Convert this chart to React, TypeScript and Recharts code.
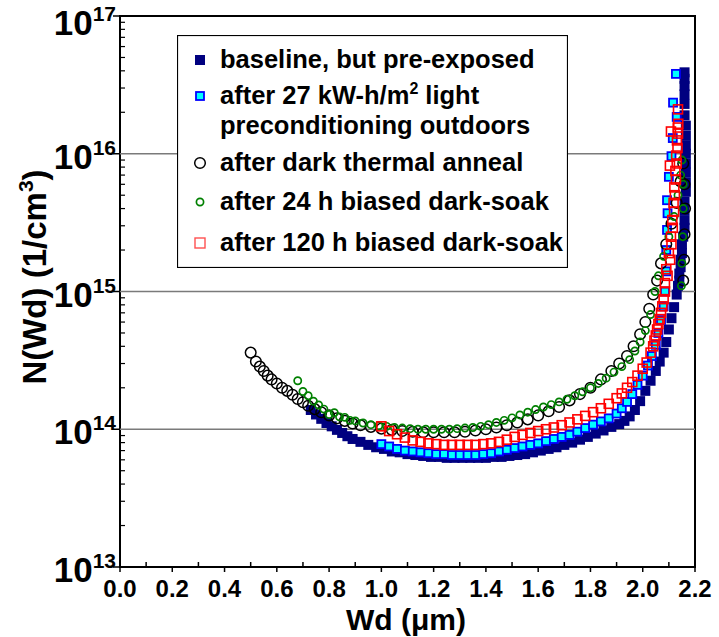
import { ScatterChart, Scatter, XAxis, YAxis, ReferenceLine, ReferenceArea, Legend } from "recharts";

const FONT = "'Liberation Sans', Arial, Helvetica, sans-serif";

// [Wd (um), N(Wd) (1/cm3)]
const baseline: [number, number][] = [
  [0.73, 1.38e14], [0.75, 1.28e14], [0.77, 1.19e14], [0.79, 1.11e14], [0.81, 1.05e14], [0.83, 9.9e13],
  [0.85, 9.4e13], [0.87, 8.9e13], [0.89, 8.5e13], [0.92, 8.1e13], [0.95, 7.7e13], [0.98, 7.4e13],
  [1.01, 7.2e13], [1.04, 6.9e13], [1.07, 6.8e13], [1.1, 6.6e13], [1.13, 6.5e13], [1.16, 6.4e13],
  [1.19, 6.3e13], [1.22, 6.3e13], [1.25, 6.2e13], [1.28, 6.2e13], [1.31, 6.2e13], [1.34, 6.2e13],
  [1.37, 6.2e13], [1.4, 6.2e13], [1.43, 6.3e13], [1.46, 6.3e13], [1.49, 6.4e13], [1.52, 6.5e13],
  [1.55, 6.6e13], [1.58, 6.8e13], [1.61, 7.0e13], [1.64, 7.2e13], [1.67, 7.4e13], [1.7, 7.7e13],
  [1.73, 8.0e13], [1.76, 8.4e13], [1.79, 8.8e13], [1.82, 9.3e13], [1.85, 9.8e13], [1.88, 1.04e14],
  [1.91, 1.09e14], [1.93, 1.15e14], [1.95, 1.24e14], [1.97, 1.38e14], [1.99, 1.6e14], [2.01, 1.9e14],
  [2.03, 2.25e14], [2.05, 2.65e14], [2.065, 3.1e14], [2.08, 3.6e14], [2.09, 4.3e14], [2.1, 5.3e14],
  [2.11, 6.4e14], [2.12, 7.7e14], [2.13, 9.5e14], [2.135, 1.1e15], [2.14, 1.2e15], [2.14, 1.35e15],
  [2.145, 1.5e15], [2.145, 1.7e15], [2.15, 1.9e15], [2.15, 2.2e15], [2.155, 2.5e15], [2.16, 2.9e15],
  [2.16, 3.3e15], [2.16, 3.9e15], [2.16, 4.5e15], [2.165, 5.3e15], [2.165, 6.2e15], [2.165, 7.3e15],
  [2.165, 8.5e15], [2.165, 1.0e16], [2.165, 1.15e16], [2.165, 1.35e16], [2.165, 1.6e16], [2.16, 1.9e16],
  [2.16, 2.3e16], [2.16, 2.7e16], [2.16, 3.1e16], [2.16, 3.5e16], [2.16, 3.9e16],
];

const lightSoak: [number, number][] = [
  [1.0, 7.8e13], [1.03, 7.5e13], [1.06, 7.2e13], [1.09, 7.0e13], [1.12, 6.9e13], [1.15, 6.8e13],
  [1.18, 6.7e13], [1.21, 6.6e13], [1.24, 6.6e13], [1.27, 6.5e13], [1.3, 6.5e13], [1.33, 6.5e13],
  [1.36, 6.5e13], [1.39, 6.6e13], [1.42, 6.7e13], [1.45, 6.9e13], [1.48, 7.1e13], [1.51, 7.3e13],
  [1.54, 7.5e13], [1.57, 7.7e13], [1.6, 7.9e13], [1.63, 8.2e13], [1.66, 8.5e13], [1.69, 8.8e13],
  [1.72, 9.1e13], [1.75, 9.6e13], [1.78, 1.02e14], [1.81, 1.08e14], [1.84, 1.14e14], [1.87, 1.2e14],
  [1.9, 1.3e14], [1.92, 1.42e14], [1.94, 1.58e14], [1.96, 1.8e14], [1.98, 2.1e14], [2.0, 2.45e14],
  [2.02, 2.9e14], [2.035, 3.4e14], [2.05, 4.1e14], [2.06, 5.0e14], [2.07, 6.2e14], [2.08, 7.8e14],
  [2.085, 1.0e15], [2.09, 1.4e15], [2.09, 2.0e15], [2.093, 2.8e15], [2.095, 3.7e15], [2.093, 4.6e15],
  [2.1, 6.8e15], [2.11, 9.6e15], [2.115, 1.3e16], [2.13, 1.85e16], [2.116, 2.35e16], [2.127, 3.8e16],
];

const thermalAnneal: [number, number][] = [
  [0.5, 3.6e14], [0.52, 3.1e14], [0.535, 2.85e14], [0.55, 2.65e14], [0.565, 2.45e14], [0.58, 2.3e14],
  [0.6, 2.15e14], [0.62, 2.0e14], [0.64, 1.9e14], [0.66, 1.78e14], [0.68, 1.66e14], [0.7, 1.57e14],
  [0.72, 1.48e14], [0.745, 1.4e14], [0.77, 1.33e14], [0.8, 1.26e14], [0.83, 1.2e14], [0.86, 1.15e14],
  [0.89, 1.1e14], [0.92, 1.07e14], [0.96, 1.04e14], [1.0, 1.01e14], [1.04, 9.9e13], [1.08, 9.7e13],
  [1.12, 9.6e13], [1.16, 9.5e13], [1.2, 9.5e13], [1.24, 9.5e13], [1.28, 9.5e13], [1.32, 9.6e13],
  [1.36, 9.8e13], [1.4, 1.0e14], [1.44, 1.03e14], [1.48, 1.07e14], [1.52, 1.12e14], [1.56, 1.18e14],
  [1.6, 1.26e14], [1.64, 1.35e14], [1.68, 1.45e14], [1.72, 1.62e14], [1.76, 1.8e14], [1.8, 2.0e14],
  [1.84, 2.3e14], [1.88, 2.65e14], [1.91, 3.0e14], [1.94, 3.4e14], [1.965, 4.0e14], [1.99, 4.9e14],
  [2.01, 6.0e14], [2.025, 7.5e14], [2.04, 9.5e14], [2.055, 1.2e15], [2.07, 1.6e15], [2.09, 2.2e15],
  [2.11, 3.1e15], [2.13, 4.4e15], [2.145, 6.3e15], [2.155, 8.5e15], [2.16, 6e15], [2.162, 4e15],
  [2.16, 2.6e15], [2.158, 1.7e15], [2.155, 1.2e15],
];

const darkSoak24: [number, number][] = [
  [0.68, 2.25e14], [0.7, 1.88e14], [0.72, 1.75e14], [0.74, 1.6e14], [0.76, 1.5e14], [0.78, 1.4e14],
  [0.8, 1.28e14], [0.82, 1.32e14], [0.84, 1.23e14], [0.86, 1.22e14], [0.88, 1.16e14], [0.9, 1.15e14],
  [0.93, 1.11e14], [0.96, 1.08e14], [0.99, 1.06e14], [1.02, 1.05e14], [1.05, 1.03e14], [1.08, 1.02e14],
  [1.11, 1.01e14], [1.14, 1.0e14], [1.17, 1.0e14], [1.2, 1.0e14], [1.23, 1.0e14], [1.26, 1.0e14],
  [1.29, 1.01e14], [1.32, 1.02e14], [1.35, 1.03e14], [1.38, 1.05e14], [1.41, 1.08e14], [1.44, 1.12e14],
  [1.47, 1.16e14], [1.5, 1.21e14], [1.53, 1.27e14], [1.56, 1.33e14], [1.59, 1.39e14], [1.62, 1.45e14],
  [1.65, 1.51e14], [1.68, 1.58e14], [1.71, 1.65e14], [1.74, 1.75e14], [1.77, 1.87e14], [1.8, 2.0e14],
  [1.83, 2.15e14], [1.86, 2.35e14], [1.89, 2.6e14], [1.92, 2.85e14], [1.95, 3.2e14], [1.97, 3.7e14],
  [1.99, 4.3e14], [2.01, 5.2e14], [2.03, 6.8e14], [2.047, 1.0e15], [2.06, 1.3e15], [2.08, 1.8e15],
  [2.1, 2.5e15], [2.12, 3.5e15], [2.135, 5e15], [2.145, 7e15], [2.15, 9e15], [2.155, 6e15],
  [2.155, 4e15], [2.153, 2.5e15], [2.15, 1.6e15], [2.148, 1.1e15],
];

const darkSoak120: [number, number][] = [
  [1.0, 1.05e14], [1.03, 9.7e13], [1.06, 9.2e13], [1.09, 8.7e13], [1.12, 8.3e13], [1.15, 8.1e13],
  [1.18, 7.9e13], [1.21, 7.8e13], [1.24, 7.7e13], [1.27, 7.7e13], [1.3, 7.7e13], [1.33, 7.7e13],
  [1.36, 7.7e13], [1.39, 7.8e13], [1.42, 7.9e13], [1.45, 8.1e13], [1.48, 8.4e13], [1.51, 8.8e13],
  [1.54, 9.1e13], [1.57, 9.4e13], [1.6, 9.7e13], [1.63, 1.0e14], [1.66, 1.03e14], [1.69, 1.07e14],
  [1.72, 1.12e14], [1.75, 1.18e14], [1.78, 1.25e14], [1.81, 1.33e14], [1.84, 1.42e14], [1.87, 1.53e14],
  [1.9, 1.68e14], [1.92, 1.82e14], [1.94, 2.0e14], [1.96, 2.2e14], [1.98, 2.45e14], [2.0, 2.75e14],
  [2.015, 3.05e14], [2.03, 3.6e14], [2.04, 4.0e14], [2.045, 4.4e14], [2.05, 4.8e14], [2.055, 5.3e14],
  [2.06, 5.8e14], [2.065, 6.3e14], [2.07, 7.0e14], [2.075, 7.8e14], [2.08, 8.8e14], [2.085, 1.0e15],
  [2.085, 1.15e15], [2.095, 1.3e15], [2.09, 1.45e15], [2.105, 1.7e15], [2.1, 1.9e15], [2.11, 2.2e15],
  [2.108, 2.5e15], [2.115, 2.9e15], [2.113, 3.3e15], [2.12, 3.8e15], [2.118, 4.4e15], [2.123, 5.0e15],
  [2.121, 5.7e15], [2.127, 6.5e15], [2.125, 7.5e15], [2.13, 8.5e15], [2.128, 9.7e15], [2.133, 1.1e16],
  [2.131, 1.25e16], [2.135, 1.4e16], [2.134, 1.55e16], [2.136, 1.65e16], [2.104, 8.2e15], [2.108, 1.45e16],
  [2.135, 2.1e16],
];

const xTicks = [0, 0.1, 0.2, 0.3, 0.4, 0.5, 0.6, 0.7, 0.8, 0.9, 1.0, 1.1, 1.2, 1.3, 1.4, 1.5, 1.6, 1.7, 1.8, 1.9, 2.0, 2.1, 2.2];
const yDecades = [13, 14, 15, 16, 17];
const gridDecades = [14, 15, 16];
const yTicks = yDecades.flatMap((d) =>
  d === 17 ? [10 ** d] : [1, 2, 3, 4, 5, 6, 7, 8, 9].map((m) => m * 10 ** d)
);

const toPoints = (s: [number, number][]) => s.map(([wd, n]) => ({ wd, n }));

const squareShape = (size: number, fill: string, stroke: string, sw: number) => (props: any) => {
  const { cx, cy } = props;
  if (cx == null || cy == null) return <g />;
  return <rect x={cx - size / 2} y={cy - size / 2} width={size} height={size} fill={fill} stroke={stroke} strokeWidth={sw} />;
};
const circleShape = (r: number, stroke: string, sw: number) => (props: any) => {
  const { cx, cy } = props;
  if (cx == null || cy == null) return <g />;
  return <circle cx={cx} cy={cy} r={r} fill="none" stroke={stroke} strokeWidth={sw} />;
};

const series = [
  { name: "baseline", data: baseline, shape: squareShape(10, "#000080", "none", 0) },
  { name: "light", data: lightSoak, shape: squareShape(8, "#00ffff", "#0000ff", 1.8) },
  { name: "anneal", data: thermalAnneal, shape: circleShape(5.3, "#000000", 1.5) },
  { name: "soak24", data: darkSoak24, shape: circleShape(3.6, "#008000", 1.7) },
  { name: "soak120", data: darkSoak120, shape: squareShape(9, "none", "#ff0000", 1.6) },
];

function XTick(props: any) {
  const { x, y, payload } = props;
  const v = payload.value as number;
  const major = Math.round(v * 10) % 2 === 0;
  return (
    <g>
      <line x1={x} x2={x} y1={y} y2={major ? y + 5 : y - 5} stroke="#000" strokeWidth={1.5} />
      {major && (
        <text x={x} y={y + 30} textAnchor="middle" fontFamily={FONT} fontWeight="bold" fontSize={24} fill="#000">
          {v.toFixed(1)}
        </text>
      )}
    </g>
  );
}

function YTick(props: any) {
  const { x, y, payload } = props;
  const v = payload.value as number;
  const lg = Math.log10(v);
  const e = Math.round(lg);
  const major = Math.abs(lg - e) < 1e-6;
  if (!major) return <line x1={x} x2={x + 5} y1={y} y2={y} stroke="#000" strokeWidth={1.2} />;
  // the top label sits a little lower so it stays inside the picture
  const base = y + (e === 17 ? 19 : 15);
  return (
    <g>
      <line x1={x - 7} x2={x} y1={y} y2={y} stroke="#000" strokeWidth={1.5} />
      <text x={x - 4} y={base} textAnchor="end" fontFamily={FONT} fontWeight="bold" fill="#000">
        <tspan fontSize={35}>10</tspan>
        <tspan fontSize={21} dy={-14}>{e}</tspan>
      </text>
    </g>
  );
}

const legendRows = [
  { lines: ["baseline, but pre-exposed"], y: 25 },
  { lines: ["after 27 kW-h/m|2| light", "preconditioning outdoors"], y: 61 },
  { lines: ["after dark thermal anneal"], y: 128 },
  { lines: ["after 24 h biased dark-soak"], y: 167 },
  { lines: ["after 120 h biased dark-soak"], y: 208 },
];

function LegendMarker({ i, y }: { i: number; y: number }) {
  const cx = 23;
  if (i === 0) return <rect x={cx - 5} y={y - 5} width={10} height={10} fill="#000080" />;
  if (i === 1) return <rect x={cx - 4} y={y - 4} width={8} height={8} fill="#00ffff" stroke="#0000ff" strokeWidth={1.8} />;
  if (i === 2) return <circle cx={cx} cy={y} r={5.3} fill="none" stroke="#000" strokeWidth={1.5} />;
  if (i === 3) return <circle cx={cx} cy={y} r={3.6} fill="none" stroke="#008000" strokeWidth={1.7} />;
  return <rect x={cx - 5} y={y - 5} width={10} height={10} fill="none" stroke="#ff5050" strokeWidth={1.4} />;
}

function LegendBox() {
  return (
    <svg width={391} height={233} style={{ display: "block" }}>
      <rect x={0.5} y={0.5} width={390} height={232} fill="#fff" stroke="#000" strokeWidth={1.2} />
      {legendRows.map((row, i) => (
        <g key={i}>
          <LegendMarker i={i} y={row.y} />
          {row.lines.map((line, j) => {
            const parts = line.split("|");
            return (
              <text key={j} x={43} y={row.y + 8 + j * 30} fontFamily={FONT} fontWeight="bold" fontSize={25.5} fill="#000">
                {parts.length === 1 ? (
                  line
                ) : (
                  <>
                    <tspan>{parts[0]}</tspan>
                    <tspan fontSize={16} dy={-10}>{parts[1]}</tspan>
                    <tspan dy={10}>{parts[2]}</tspan>
                  </>
                )}
              </text>
            );
          })}
        </g>
      ))}
    </svg>
  );
}

export default function App() {
  return (
    <div style={{ position: "absolute", left: 0, top: 0, width: 719, height: 637, background: "#fff" }}>
      <ScatterChart width={719} height={637} margin={{ top: 16, right: 24, bottom: 0, left: 0 }}>
        <XAxis
          dataKey="wd"
          type="number"
          domain={[0, 2.2]}
          ticks={xTicks}
          interval={0}
          height={70}
          tickSize={0}
          tickMargin={0}
          tickLine={false}
          axisLine={false}
          allowDataOverflow
          tick={<XTick />}
          label={{
            content: () => (
              <text x={406} y={630} textAnchor="middle" fontFamily={FONT} fontWeight="bold" fontSize={30} fill="#000">
                Wd (μm)
              </text>
            ),
          }}
        />
        <YAxis
          dataKey="n"
          type="number"
          scale="log"
          domain={[1e13, 1e17]}
          ticks={yTicks}
          interval={0}
          width={120}
          tickSize={0}
          tickMargin={0}
          tickLine={false}
          axisLine={false}
          allowDataOverflow
          tick={<YTick />}
          label={{
            content: () => (
              <text
                transform="translate(46 277) rotate(-90)"
                textAnchor="middle"
                fontFamily={FONT}
                fontWeight="bold"
                fontSize={33}
                fill="#000"
              >
                <tspan>N(Wd) (1/cm</tspan>
                <tspan fontSize={21} dy={-13}>3</tspan>
                <tspan dy={13}>)</tspan>
              </text>
            ),
          }}
        />
        {gridDecades.map((d) => (
          <ReferenceLine key={d} y={10 ** d} stroke="#7a7a7a" strokeWidth={1.5} />
        ))}
        {series.map((s) => (
          <Scatter key={s.name} name={s.name} data={toPoints(s.data)} shape={s.shape} isAnimationActive={false} />
        ))}
        <ReferenceArea x1={0} x2={2.2} y1={1e13} y2={1e17} fill="none" stroke="#000" strokeWidth={2} fillOpacity={0} />
        <Legend
          layout="vertical"
          align="center"
          verticalAlign="middle"
          wrapperStyle={{ left: 177, top: 35, width: 391, height: 233 }}
          content={() => <LegendBox />}
        />
      </ScatterChart>
    </div>
  );
}
